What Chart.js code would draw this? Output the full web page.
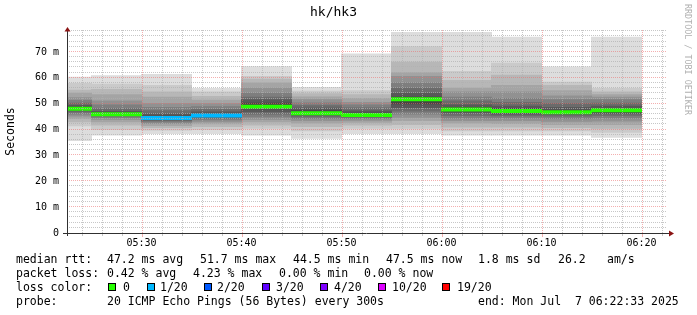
<!DOCTYPE html>
<html><head><meta charset="utf-8">
<script src="https://cdn.jsdelivr.net/npm/chart.js@4/dist/chart.umd.min.js"></script>
<style>
html,body{margin:0;padding:0;background:#fff;}
#wrap{position:relative;width:697px;height:315px;overflow:hidden;background:#fff;}
canvas{position:absolute;left:0;top:0;}
.t{position:absolute;font-family:'DejaVu Sans Mono',monospace;font-size:11.5px;line-height:14px;white-space:pre;color:#000;}
.box{position:absolute;width:6px;height:6px;border:1px solid #000;}
#wm{position:absolute;left:683px;top:4px;writing-mode:vertical-rl;font-family:'DejaVu Sans Mono',monospace;font-size:8.4px;line-height:9px;color:#b0b0b0;white-space:pre;}
</style></head><body>
<div id="wrap"><canvas id="c" width="697" height="315"></canvas><div id="wm">RRDTOOL / TOBI OETIKER</div><div id="legend"></div></div>
<script>
// ---------------- DATA ----------------
const chartTitle = 'hk/hk3';
const rangeStart = '05:22:33';
const rangeEnd = '06:22:33';
// 5-minute periods (start times)
const periods = ['05:20','05:25','05:30','05:35','05:40','05:45','05:50','05:55','06:00','06:05','06:10','06:15'];
// 20 sorted ping RTTs (ms) per period
const p0520 = [35.8,41.5,43.0,44.3,45.2,46.0,46.8,47.3,47.7,47.9,48.1,48.6,49.3,50.2,51.2,52.3,54.0,55.2,57.8,60.2];
const p0525 = [37.9,40.0,41.8,43.0,44.0,44.7,45.2,45.5,45.7,45.8,46.0,46.4,47.0,48.0,49.5,51.0,53.5,55.5,57.5,60.8];
const p0530 = [38.5,39.8,40.8,41.6,42.3,42.9,43.4,43.8,44.1,44.4,44.6,45.1,46.0,47.3,48.5,50.0,52.5,54.5,57.0,61.3];
const p0535 = [38.5,40.0,41.2,42.2,43.0,43.8,44.4,44.9,45.2,45.3,45.5,46.0,46.8,47.8,48.8,50.0,51.3,52.8,54.5,55.9];
const p0540 = [37.9,40.5,41.8,43.0,44.0,45.0,46.0,47.0,48.0,48.6,49.0,50.2,51.5,52.5,54.0,56.0,58.0,59.5,60.5,64.3];
const p0545 = [36.6,39.5,41.2,42.5,43.5,44.3,45.0,45.6,46.0,46.2,46.4,47.3,48.2,49.2,50.3,51.5,52.6,53.8,54.8,56.3];
const p0550 = [38.5,40.5,41.8,42.8,43.6,44.3,44.8,45.2,45.4,45.5,45.7,46.3,47.2,48.3,49.5,50.5,52.0,53.5,55.0,69.2];
const p0555 = [38.5,40.5,42.0,43.5,44.8,46.0,47.2,48.5,50.0,51.5,51.9,52.5,54.0,56.0,58.0,60.5,62.0,66.0,72.0,77.5];
const p0600 = [37.9,39.5,41.0,42.5,43.5,44.5,45.5,46.5,47.2,47.7,47.9,48.5,49.5,51.0,52.5,54.5,56.0,59.0,62.5,77.5];
const p0605 = [37.9,39.5,41.0,42.3,43.5,44.5,45.3,46.0,46.6,47.1,47.3,48.0,49.0,50.5,52.0,54.5,57.0,61.0,65.6,75.7];
const p0610 = [37.9,39.5,40.8,42.0,43.2,44.3,45.2,45.9,46.4,46.6,46.8,47.5,48.5,50.0,51.5,53.0,55.0,57.0,58.3,64.2];
const p0615 = [37.0,39.0,40.5,42.0,43.3,44.5,45.5,46.2,46.8,47.3,47.7,48.0,49.0,50.2,51.5,52.5,53.5,54.5,55.9,75.7];
const pings = [p0520,p0525,p0530,p0535,p0540,p0545,p0550,p0555,p0600,p0605,p0610,p0615];
// lost pings (of 20) per period
const lossCount = [0,0,1,1,0,0,0,0,0,0,0,0];
// loss colour legend
const lossSteps = [0,1,2,3,4,10,19];
const lossLabels = ['0','1/20','2/20','3/20','4/20','10/20','19/20'];
const lossColors = ['#26ff00','#00b8ff','#0059ff','#5e00ff','#7e00ff','#dd00ff','#ff0000'];
// axis ticks
const xTickLabels = ['05:30','05:40','05:50','06:00','06:10','06:20'];
const yTickValues = [0,10,20,30,40,50,60,70];
const yTickLabels = ['0','10 m','20 m','30 m','40 m','50 m','60 m','70 m'];
const yMaxValue = 78.5;
// legend statistics
const rttStats = ['47.2 ms avg','51.7 ms max','44.5 ms min','47.5 ms now','1.8 ms sd','26.2','am/s'];
const lossStats = ['0.42 % avg','4.23 % max','0.00 % min','0.00 % now'];
const probeText = '20 ICMP Echo Pings (56 Bytes) every 300s';
const endText = 'end: Mon Jul  7 06:22:33 2025';

// ---------------- helpers ----------------
function toMin(s){const a=s.split(':').map(Number);return (a[0]-5)*60+a[1]+(a[2]||0)/60;}
const periodLen = 5;
const xs = periods.map(p=>toMin(p)+periodLen/2);
const xMin = toMin(rangeStart), xMax = toMin(rangeEnd);
const majorX = xTickLabels.map(toMin);
const xTicks = []; for(let v=Math.ceil(xMin/2)*2; v<=xMax; v+=2) xTicks.push(v);
const yTicks = []; for(let v=0; v<=yMaxValue; v+=2) yTicks.push(v);
const medians = pings.map(p=>(p[9]+p[10])/2);
function lossColor(n){let c=lossColors[0];lossSteps.forEach((s,i)=>{if(n>=s)c=lossColors[i];});return c;}
const isMajorX = v=>majorX.some(m=>Math.abs(m-v)<1e-6);

// layout
const CW=697, PAD_R=30, Y_W=67;
const plotW = CW-PAD_R-Y_W;
const barW = periodLen/(xMax-xMin)*plotW;

const half = 10;
const datasets = [];
const medHalf = 0.58;
datasets.push({
  data: xs.map((x,i)=>({x, y:[medians[i]-medHalf, medians[i]+medHalf]})),
  backgroundColor: lossCount.map(lossColor), order: 0
});
for(let ii=half; ii>=1; ii--){
  const g = Math.floor(190/half*(half-ii))+50;
  datasets.push({
    data: xs.map((x,i)=>({x, y:[pings[i][ii-1], pings[i][20-ii]]})),
    backgroundColor: `rgb(${g},${g},${g})`, order: 1+(half-ii)
  });
}

const MONO = 'DejaVu Sans Mono';
const RED = 'rgba(235,110,110,0.55)';
const GREY = 'rgba(175,175,175,0.7)';

const gridPlugin = {
  id:'rrdGrid',
  afterDatasetsDraw(chart){
    const {ctx, chartArea:a, scales:{x, y}} = chart;
    ctx.save();
    ctx.lineWidth = 1;
    ctx.setLineDash([1,1]);
    const vline = (v,col)=>{const px=Math.round(x.getPixelForValue(v))+0.5;ctx.strokeStyle=col;ctx.beginPath();ctx.moveTo(px,a.top);ctx.lineTo(px,a.bottom);ctx.stroke();};
    const hline = (v,col)=>{const py=Math.round(y.getPixelForValue(v))-0.5;ctx.strokeStyle=col;ctx.beginPath();ctx.moveTo(a.left,py);ctx.lineTo(a.right,py);ctx.stroke();};
    xTicks.filter(v=>!isMajorX(v)).forEach(v=>vline(v,GREY));
    yTicks.filter(v=>!yTickValues.includes(v)).forEach(v=>hline(v,GREY));
    xTicks.filter(isMajorX).forEach(v=>vline(v,RED));
    yTickValues.filter(v=>v>0).forEach(v=>hline(v,RED));
    ctx.setLineDash([]);
    xTicks.forEach(v=>{const px=Math.round(x.getPixelForValue(v))+0.5;const maj=isMajorX(v);
      ctx.strokeStyle=maj?RED:GREY;ctx.beginPath();ctx.moveTo(px,a.bottom+1);ctx.lineTo(px,a.bottom+(maj?4:3));ctx.stroke();});
    ctx.strokeStyle = '#303030';
    ctx.beginPath();
    ctx.moveTo(a.left-4, a.bottom+0.5); ctx.lineTo(a.right+3, a.bottom+0.5);
    ctx.moveTo(a.left+0.5, a.bottom+3); ctx.lineTo(a.left+0.5, a.top-1);
    ctx.stroke();
    ctx.fillStyle = '#8b1414';
    ctx.beginPath();
    ctx.moveTo(a.left+0.5, a.top-3); ctx.lineTo(a.left-2.5, a.top+1.5); ctx.lineTo(a.left+3.5, a.top+1.5); ctx.closePath(); ctx.fill();
    ctx.beginPath();
    ctx.moveTo(a.right+7, a.bottom+0.5); ctx.lineTo(a.right+2, a.bottom-2.5); ctx.lineTo(a.right+2, a.bottom+3.5); ctx.closePath(); ctx.fill();
    ctx.restore();
  }
};

new Chart(document.getElementById('c'), {
  type:'bar',
  data:{datasets},
  plugins:[gridPlugin],
  options:{
    responsive:false, animation:false, devicePixelRatio:1,
    layout:{padding:{left:0,right:PAD_R,top:0,bottom:0}},
    plugins:{
      legend:{display:false}, tooltip:{enabled:false},
      title:{display:true, text:chartTitle, color:'#000', font:{family:MONO,size:13,weight:'normal'}, padding:{top:5,bottom:9.4}}
    },
    datasets:{bar:{grouped:false, barThickness:barW, borderWidth:0, inflateAmount:0.5}},
    scales:{
      x:{
        type:'linear', min:xMin, max:xMax, offset:false,
        afterFit(s){s.height=82;},
        afterBuildTicks(s){s.ticks = xTicks.map(v=>({value:v}));},
        ticks:{autoSkip:false, maxRotation:0, minRotation:0, padding:1, color:'#000',
          font:{family:MONO,size:10},
          callback:(v)=>{const k=majorX.findIndex(m=>Math.abs(m-v)<1e-6);return k>=0?xTickLabels[k]:'';}},
        grid:{offset:false, tickLength:3, color:'transparent', tickColor:'transparent'},
        border:{display:false}
      },
      y:{
        min:0, max:yMaxValue,
        afterFit(s){s.width=Y_W;},
        afterBuildTicks(s){s.ticks = yTicks.map(v=>({value:v}));},
        ticks:{autoSkip:false, padding:8, color:'#000', font:{family:MONO,size:10},
          callback:(v)=>{const k=yTickValues.indexOf(v);return k>=0?yTickLabels[k]:'';}},
        grid:{drawTicks:false, color:'transparent'},
        border:{display:false},
        title:{display:true, text:'Seconds', color:'#000', font:{family:MONO,size:11.5}, padding:{top:4,bottom:0}}
      }
    }
  }
});

// ---------------- legend (text) ----------------
const L = document.getElementById('legend');
function txt(s,x,y){const d=document.createElement('div');d.className='t';d.textContent=s;d.style.left=x+'px';d.style.top=y+'px';L.appendChild(d);}
function box(c,x,y){const d=document.createElement('div');d.className='box';d.style.background=c;d.style.left=x+'px';d.style.top=y+'px';L.appendChild(d);}
const row = [252,266,280,294];
txt('median rtt:',16,row[0]);
[107,200,293,386,478,558,607].forEach((x,i)=>txt(rttStats[i],x,row[0]));
txt('packet loss:',16,row[1]);
[107,193,279,364].forEach((x,i)=>txt(lossStats[i],x,row[1]));
txt('loss color:',16,row[2]);
const boxX = [108,147,204,262,320,378,442];
const labX = [123,160,217,276,334,392,457];
lossLabels.forEach((l,i)=>{box(lossColors[i],boxX[i],283);txt(l,labX[i],row[2]);});
txt('probe:',16,row[3]);
txt(probeText,107,row[3]);
txt(endText,478,row[3]);
</script>
</body></html>
